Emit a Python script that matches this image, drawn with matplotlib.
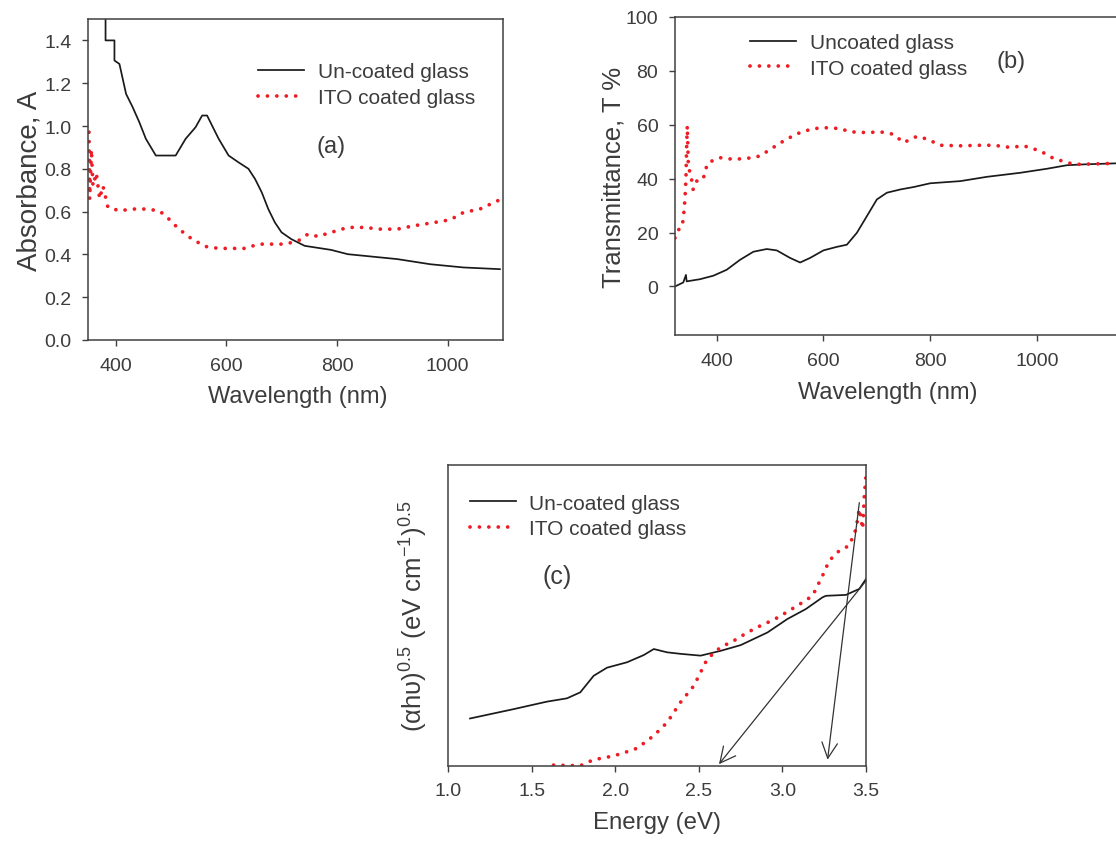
import numpy as np
import matplotlib
matplotlib.use('Agg')
import matplotlib.pyplot as plt

# ---- data ----
# (a) absorbance
wl_a_bare = [381.7, 381.7, 397.8, 397.8, 406.8, 418.8, 430.7, 442.7, 454.6, 472.6, 508.4,
             526.4, 544.3, 556.3, 565.2, 574.2, 586.2, 604.1, 622.1, 640, 652, 664,
             675.8, 687.8, 699.8, 717.7, 741.6, 789.5, 819.4, 909, 968.8, 1028.6, 1094.4]
abs_bare = [1.65, 1.40, 1.40, 1.306, 1.29, 1.15, 1.088, 1.018, 0.94, 0.862, 0.862,
            0.94, 0.994, 1.049, 1.049, 1.002, 0.94, 0.862, 0.83, 0.80, 0.752, 0.69,
            0.612, 0.549, 0.503, 0.471, 0.44, 0.421, 0.401, 0.378, 0.354, 0.339, 0.331]
wl_a_ito = [351.8, 353, 356, 359, 365, 371, 377, 386, 406.8, 430.7, 454.6, 478.5, 490.5,
            514.4, 538.3, 562.2, 586.2, 610, 634, 658, 682, 706, 729.7, 747.6, 765.5,
            789.5, 819.4, 849.3, 879.1, 909, 939, 968.8, 1004.7, 1028.6, 1058.4, 1094]
abs_ito = [0.971, 0.659, 0.89, 0.72, 0.78, 0.66, 0.72, 0.62, 0.604, 0.612, 0.612, 0.604, 0.58,
           0.518, 0.471, 0.437, 0.428, 0.428, 0.428, 0.448, 0.448, 0.448, 0.463, 0.495, 0.484,
           0.503, 0.526, 0.526, 0.518, 0.518, 0.534, 0.546, 0.562, 0.596, 0.612, 0.655]

# (b) transmittance
wl_b_bare = [321.9, 337.5, 342.5, 343.8, 368.8, 393.8, 418.8, 443.8, 468.8, 493.8, 512.5,
             537.5, 556.3, 575, 600, 625, 643.8, 662.5, 681.3, 700, 718.8, 743.8, 768.8,
             800, 856.3, 906.3, 968.8, 1018.8, 1056, 1086, 1148]
tr_bare = [0, 1.5, 4.3, 1.9, 2.7, 4.0, 6.2, 9.9, 12.9, 13.9, 13.4,
           10.6, 8.9, 10.6, 13.4, 14.7, 15.5, 19.9, 26.1, 32.3, 34.8, 36.0, 36.9,
           38.3, 39.1, 40.7, 42.2, 43.7, 45.0, 45.3, 45.7]
wl_b_ito = [321.9, 328, 334, 337.5, 340.6, 342.5, 343.8, 345, 347, 353, 356, 362.5, 375, 378,
            384.4, 406, 431, 456, 481, 506, 531, 556, 581, 606, 631, 650, 681, 706, 731, 750,
            775, 794, 819, 856, 894, 919, 950, 975, 1006, 1031, 1069, 1110, 1148]
tr_ito = [18.0, 21, 21.7, 24.8, 32.3, 39.8, 52.2, 59.6, 44.7, 39.8, 36, 39.1, 39.8, 42.9,
          46, 47.8, 47.2, 47.5, 48.4, 51.6, 54.7, 57.1, 58.6, 58.9, 58.6, 57.4, 57.1, 57.4, 56.5, 53.4,
          55.7, 54.7, 52.4, 52.2, 52.4, 52.4, 51.6, 52.2, 50.3, 47.5, 45.3, 45.5, 45.7]

# (c) Tauc plot (arbitrary units)
en_bare = [1.13, 1.39, 1.59, 1.71, 1.79, 1.87, 1.95, 2.07, 2.17, 2.23, 2.31, 2.39, 2.51,
           2.63, 2.75, 2.91, 3.03, 3.14, 3.24, 3.26, 3.38, 3.46, 3.50]
tauc_bare = [0.157, 0.188, 0.213, 0.224, 0.244, 0.299, 0.326, 0.344, 0.368, 0.388, 0.377, 0.372,
             0.366, 0.382, 0.401, 0.443, 0.488, 0.521, 0.56, 0.565, 0.568, 0.588, 0.621]
en_ito = [1.63, 1.79, 1.87, 1.95, 2.03, 2.13, 2.23, 2.31, 2.39, 2.47, 2.55, 2.63, 2.71, 2.79,
          2.87, 2.95, 3.03, 3.12, 3.18, 3.24, 3.28, 3.34, 3.40, 3.44, 3.46, 3.48, 3.49, 3.50]
tauc_ito = [0.002, 0.0, 0.02, 0.028, 0.039, 0.058, 0.10, 0.144, 0.211, 0.266, 0.355, 0.394, 0.416,
            0.443, 0.466, 0.486, 0.512, 0.543, 0.565, 0.632, 0.682, 0.715, 0.732, 0.787, 0.854,
            0.787, 0.898, 0.965]
# fitted tangent lines (start, end)
fit1 = [(3.50, 0.615), (2.62, 0.005)]
fit2 = [(3.46, 0.875), (3.27, 0.02)]

# ---- style ----
plt.rcParams['font.family'] = ['Liberation Sans', 'DejaVu Sans']
plt.rcParams['mathtext.fontset'] = 'custom'
plt.rcParams['mathtext.rm'] = 'Liberation Sans'
plt.rcParams['mathtext.it'] = 'Liberation Sans:italic'
plt.rcParams['mathtext.bf'] = 'Liberation Sans:bold'
txtColor = '#3c3c3c'
spineColor = '#404040'
redCol = '#ee1c24'
tickSize = 14
labelSize = 17
legendSize = 15
panelSize = 17

W, H = 1116, 845
fig = plt.figure(figsize=(W / 100, H / 100), dpi=100)


def px_axes(l, r, t, b):
    return fig.add_axes([l / W, (H - b) / H, (r - l) / W, (b - t) / H])


def style(ax):
    for s in ax.spines.values():
        s.set_color(spineColor)
        s.set_linewidth(1.1)
    ax.tick_params(direction='out', length=4, width=1, color=spineColor,
                   labelsize=tickSize, labelcolor=txtColor, pad=8)


def black(ax, x, y, label):
    ax.plot(x, y, color='#1a1a1a', lw=1.25, label=label)


def red(ax, x, y, label):
    # round dots, ~9 px apart
    ax.plot(x, y, color=redCol, lw=2.7, ls=(0, (0.01, 2.5)), dash_capstyle='round',
            label=label)


def legend(ax, x, y):
    ax.legend(loc='upper left', bbox_to_anchor=(x, y), frameon=False, fontsize=legendSize,
              handlelength=2.2, handletextpad=0.65, labelspacing=0.32, borderpad=0,
              borderaxespad=0, labelcolor=txtColor)


# (a)
ax1 = px_axes(88, 503, 20, 341)
black(ax1, wl_a_bare, abs_bare, 'Un-coated glass')
red(ax1, wl_a_ito, abs_ito, 'ITO coated glass')
ax1.set_xlim(350, 1100)
ax1.set_ylim(0, 1.5)
ax1.set_xticks([400, 600, 800, 1000])
ax1.set_yticks(np.arange(0, 1.41, 0.2))
ax1.yaxis.set_major_formatter(matplotlib.ticker.FormatStrFormatter('%.1f'))
ax1.set_xlabel('Wavelength (nm)', fontsize=labelSize, color=txtColor)
ax1.set_ylabel('Absorbance, A', fontsize=20, color=txtColor)
ax1.xaxis.set_label_coords(0.505, -0.14)
ax1.yaxis.set_label_coords(-0.11, 0.5)
ax1.text(789, 0.907, '(a)', fontsize=panelSize, color=txtColor, ha='center', va='center')
legend(ax1, 0.41, 0.865)
style(ax1)

# (b)
ax2 = px_axes(675, 1122.5, 18, 336)
black(ax2, wl_b_bare, tr_bare, 'Uncoated glass')
red(ax2, wl_b_ito, tr_ito, 'ITO coated glass')
ax2.set_xlim(322, 1160)
ax2.set_ylim(-18, 100)
ax2.set_xticks([400, 600, 800, 1000])
ax2.set_yticks(np.arange(0, 101, 20))
ax2.set_xlabel('Wavelength (nm)', fontsize=labelSize, color=txtColor)
ax2.set_ylabel('Transmittance, T %', fontsize=18.5, color=txtColor)
ax2.xaxis.set_label_coords(0.476, -0.145)
ax2.yaxis.set_label_coords(-0.11, 0.5)
ax2.text(952, 83.7, '(b)', fontsize=panelSize, color=txtColor, ha='center', va='center')
legend(ax2, 0.168, 0.95)
style(ax2)

# (c)
ax3 = px_axes(448.3, 866, 466, 766.7)
black(ax3, en_bare, tauc_bare, 'Un-coated glass')
red(ax3, en_ito, tauc_ito, 'ITO coated glass')
for f in (fit1, fit2):
    ax3.annotate('', xy=f[1], xytext=f[0],
                 arrowprops=dict(arrowstyle='->', color='#333333', lw=0.9,
                                 mutation_scale=28, shrinkA=0, shrinkB=0))
ax3.set_xlim(1.0, 3.5)
ax3.set_ylim(0, 1)
ax3.set_xticks(np.arange(1.0, 3.51, 0.5))
ax3.xaxis.set_major_formatter(matplotlib.ticker.FormatStrFormatter('%.1f'))
ax3.set_yticks([])
ax3.set_xlabel('Energy (eV)', fontsize=17.3, color=txtColor)
ax3.set_ylabel(r'(αhυ)$^{0.5}$ (eV cm$^{-1}$)$^{0.5}$', fontsize=18.5, color=txtColor)
ax3.xaxis.set_label_coords(0.5, -0.15)
ax3.yaxis.set_label_coords(-0.045, 0.5)
ax3.text(1.65, 0.632, '(c)', fontsize=panelSize + 1, color=txtColor, ha='center', va='center')
legend(ax3, 0.052, 0.905)
style(ax3)

fig.savefig('out.png', dpi=100)
